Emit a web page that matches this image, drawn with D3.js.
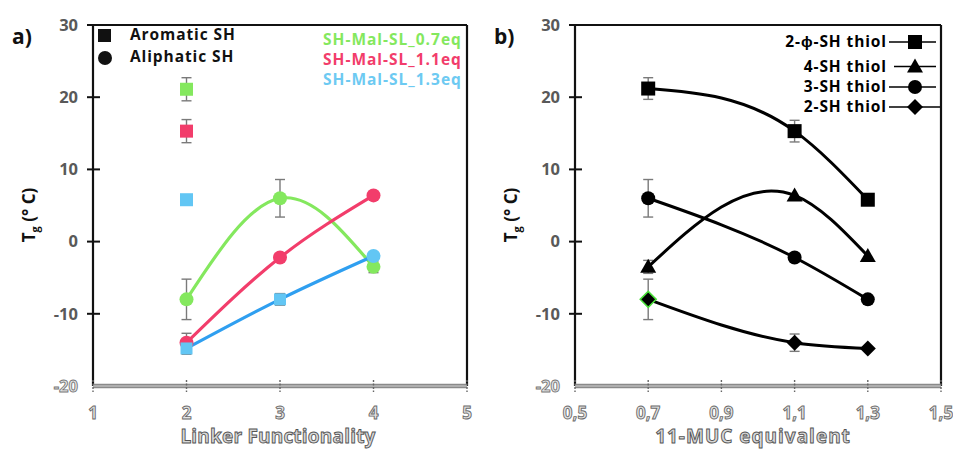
<!DOCTYPE html>
<html><head><meta charset="utf-8">
<script src="https://cdn.jsdelivr.net/npm/d3@7/dist/d3.min.js"></script>
<style>body{margin:0;background:#fff}svg{display:block}text{font-family:"Open Sans",sans-serif}</style>
</head><body><svg id="c" width="953" height="451"></svg>
<script>
// ---------- data ----------
const yTicks = [-20, -10, 0, 10, 20, 30];
const xTicksA = [1, 2, 3, 4, 5];
const xTickLabelsA = ["1", "2", "3", "4", "5"];
const xTicksB = [0.5, 0.7, 0.9, 1.1, 1.3, 1.5];
const xTickLabelsB = ["0,5", "0,7", "0,9", "1,1", "1,3", "1,5"];

// panel a
const linkerFunctionality = [2, 3, 4];
const aromaticTg = [21.1, 15.3, 5.8];
const aromaticErr = [1.6, 1.6, 0];
const tg07 = [-8, 6, -3.5];
const err07 = [2.8, 2.6, 0.8];
const tg11 = [-14, -2.2, 6.4];
const err11 = [1.3, 0, 0];
const tg13 = [-14.8, -8, -2];
const err13 = [0.8, 0.8, 0];
const seriesNamesA = ["SH-Mal-SL_0.7eq", "SH-Mal-SL_1.1eq", "SH-Mal-SL_1.3eq"];

// panel b
const mucEquivalent = [0.7, 1.1, 1.3];
const thiol2phi = [21.2, 15.3, 5.8];
const thiol2phiErr = [1.5, 1.5, 0];
const thiol4 = [-3.5, 6.4, -2];
const thiol4Err = [0.9, 0, 0];
const thiol3 = [6, -2.2, -8];
const thiol3Err = [2.6, 0, 0];
const thiol2 = [-8, -14, -14.8];
const thiol2Err = [2.8, 1.2, 0];
const seriesNamesB = ["2-ϕ-SH thiol", "4-SH thiol", "3-SH thiol", "2-SH thiol"];

// ---------- custom curve: natural cubic spline in x (smoothed line) ----------
function NaturalX(context) { this._context = context; }
NaturalX.prototype = {
  areaStart() { this._line = 0; }, areaEnd() { this._line = NaN; },
  lineStart() { this._xs = []; this._ys = []; },
  point(x, y) { this._xs.push(+x); this._ys.push(+y); },
  lineEnd() {
    const X = this._xs, Y = this._ys, n = X.length, ctx = this._context;
    if (!n) return;
    ctx.moveTo(X[0], Y[0]);
    if (n < 3) { for (let i = 1; i < n; i++) ctx.lineTo(X[i], Y[i]); return; }
    const h = [], s = [];
    for (let i = 0; i < n - 1; i++) { h.push(X[i + 1] - X[i]); s.push((Y[i + 1] - Y[i]) / h[i]); }
    const M = new Array(n).fill(0);
    const a = [], b = [], c = [], r = [];
    for (let i = 1; i < n - 1; i++) { a.push(h[i - 1]); b.push(2 * (h[i - 1] + h[i])); c.push(h[i]); r.push(6 * (s[i] - s[i - 1])); }
    const m = b.length;
    for (let i = 1; i < m; i++) { const w = a[i] / b[i - 1]; b[i] -= w * c[i - 1]; r[i] -= w * r[i - 1]; }
    const sol = new Array(m);
    sol[m - 1] = r[m - 1] / b[m - 1];
    for (let i = m - 2; i >= 0; i--) sol[i] = (r[i] - c[i] * sol[i + 1]) / b[i];
    for (let i = 0; i < m; i++) M[i + 1] = sol[i];
    for (let i = 0; i < n - 1; i++) {
      const d0 = s[i] - h[i] * (2 * M[i] + M[i + 1]) / 6;
      const d1 = s[i] + h[i] * (M[i] + 2 * M[i + 1]) / 6;
      ctx.bezierCurveTo(X[i] + h[i] / 3, Y[i] + d0 * h[i] / 3, X[i + 1] - h[i] / 3, Y[i + 1] - d1 * h[i] / 3, X[i + 1], Y[i + 1]);
    }
  }
};
const curveNaturalX = (context) => new NaturalX(context);

// ---------- drawing ----------
const svg = d3.select("#c");
const plotTop = 25, plotBottom = 386;
const y = d3.scaleLinear().domain([-20, 30]).range([plotBottom, plotTop]);
const xa = d3.scaleLinear().domain([1, 5]).range([93, 467]);
const xb = d3.scaleLinear().domain([0.5, 1.5]).range([575, 941]);

const green = "#84e85e", red = "#f23d6b", blueLine = "#2f9ff0", blueMark = "#62c6f4", blueText = "#6dcaf2";
const errColor = "#7a7a7a";
const legFont = "'Liberation Sans', Arial, sans-serif";
const legSize = 15.5;

function frame(x, ticks, labels, title, xTitleCenter, titleSpacing, panelLabel) {
  const g = svg.append("g");
  const [x0, x1] = x.range();
  g.append("line").attr("x1", x0).attr("x2", x1).attr("y1", plotTop).attr("y2", plotTop).attr("stroke", "#111").attr("stroke-width", 2.2);
  g.append("line").attr("x1", x1).attr("x2", x1).attr("y1", plotTop).attr("y2", plotBottom).attr("stroke", "#111").attr("stroke-width", 2.2);
  g.append("line").attr("x1", x0).attr("x2", x0).attr("y1", plotTop).attr("y2", plotBottom).attr("stroke", "#111").attr("stroke-width", 2.2);
  yTicks.forEach(t => {
    if (t !== -20) g.append("line").attr("x1", x0 - 6).attr("x2", x0 + 7).attr("y1", y(t)).attr("y2", y(t)).attr("stroke", "#111").attr("stroke-width", 2);
    const tx = g.append("text").attr("x", x0 - 15).attr("y", y(t)).attr("dy", "0.35em").attr("text-anchor", "end")
      .attr("font-size", 16.5).attr("font-weight", 700).text(t);
    if (t === -20) tx.attr("fill", "#e6e6e6").attr("stroke", "#777").attr("stroke-width", 0.9);
    else tx.attr("fill", "#595959");
  });
  g.append("line").attr("x1", x0).attr("x2", x1).attr("y1", plotBottom).attr("y2", plotBottom).attr("stroke", "#8a8a8a").attr("stroke-width", 4.5);
  g.append("line").attr("x1", x0).attr("x2", x1).attr("y1", plotBottom).attr("y2", plotBottom).attr("stroke", "#d4d4d4").attr("stroke-width", 1.2);
  ticks.forEach((t, i) => {
    g.append("line").attr("x1", x(t)).attr("x2", x(t)).attr("y1", plotBottom - 6).attr("y2", plotBottom + 6).attr("stroke", "#666").attr("stroke-width", 1.4).attr("stroke-dasharray", "2,1.5");
    g.append("text").attr("x", x(t)).attr("y", 413).attr("dy", "0.35em").attr("text-anchor", "middle")
      .attr("font-size", 17).attr("font-weight", 700).attr("fill", "#e4e4e4").attr("stroke", "#6a6a6a").attr("stroke-width", 0.9)
      .text(labels[i]);
  });
  g.append("text").attr("x", xTitleCenter).attr("y", 436).attr("dy", "0.35em").attr("text-anchor", "middle")
    .attr("font-size", 19).attr("font-weight", 700).attr("fill", "#d8d8d8").attr("stroke", "#555").attr("stroke-width", 0.9)
    .attr("letter-spacing", titleSpacing).text(title);
  const yt = g.append("text").attr("transform", `translate(${x0 - 58},${215}) rotate(-90)`).attr("text-anchor", "middle")
    .attr("font-size", 17).attr("font-weight", 700).attr("fill", "#111");
  yt.append("tspan").text("T");
  yt.append("tspan").attr("font-size", 11).attr("dy", 4).text("g");
  yt.append("tspan").attr("dy", -4).text(" (° C)");
  g.append("text").attr("x", x0 - 81).attr("y", 37).attr("dy", "0.35em").attr("font-size", 21).attr("font-weight", 700).attr("fill", "#111").text(panelLabel);
}

frame(xa, xTicksA, xTickLabelsA, "Linker Functionality", 278, 0.2, "a)");
frame(xb, xTicksB, xTickLabelsB, "11-MUC equivalent", 753, 1, "b)");

function errBars(g, x, xs, ys, es) {
  xs.forEach((xv, i) => {
    if (!es[i]) return;
    const cx = x(xv), yt = y(ys[i] + es[i]), yb = y(ys[i] - es[i]);
    g.append("line").attr("x1", cx).attr("x2", cx).attr("y1", yt).attr("y2", yb).attr("stroke", errColor).attr("stroke-width", 1.4);
    [yt, yb].forEach(yy => g.append("line").attr("x1", cx - 5).attr("x2", cx + 5).attr("y1", yy).attr("y2", yy).attr("stroke", errColor).attr("stroke-width", 1.4));
  });
}

const lineGen = (x) => d3.line().x(d => x(d[0])).y(d => y(d[1])).curve(curveNaturalX);

// ---------- panel a ----------
const ga = svg.append("g");
const aSeries = [
  {v: tg07, e: err07, c: green, mc: green, sh: ["c", "c", "c"]},
  {v: tg11, e: err11, c: red, mc: red, sh: ["c", "c", "c"]},
  {v: tg13, e: err13, c: blueLine, mc: blueMark, sh: ["s", "s", "c"]}
];
aSeries.forEach(s => errBars(ga, xa, linkerFunctionality, s.v, s.e));
errBars(ga, xa, [2, 2, 2], aromaticTg, aromaticErr);
aSeries.forEach(s => {
  ga.append("path").datum(linkerFunctionality.map((f, i) => [f, s.v[i]])).attr("d", lineGen(xa))
    .attr("fill", "none").attr("stroke", s.c).attr("stroke-width", 3.2);
});
aSeries.forEach(s => {
  linkerFunctionality.forEach((f, i) => {
    if (s.sh[i] === "c") ga.append("circle").attr("cx", xa(f)).attr("cy", y(s.v[i])).attr("r", 7).attr("fill", s.mc);
    else ga.append("rect").attr("x", xa(f) - 6).attr("y", y(s.v[i]) - 6).attr("width", 12).attr("height", 12).attr("fill", s.mc);
  });
});
const aromColors = [green, red, blueMark];
aromaticTg.forEach((v, i) => {
  ga.append("rect").attr("x", xa(2) - 6.5).attr("y", y(v) - 6.5).attr("width", 13).attr("height", 13).attr("fill", aromColors[i]);
});
ga.append("rect").attr("x", 98).attr("y", 29).attr("width", 13).attr("height", 13).attr("fill", "#111");
ga.append("circle").attr("cx", 105).attr("cy", 58).attr("r", 7).attr("fill", "#111");
[["Aromatic SH", 35], ["Aliphatic SH", 57]].forEach(([t, yy]) => {
  ga.append("text").attr("x", 130).attr("y", yy).attr("dy", "0.35em").attr("font-family", legFont).attr("font-size", legSize)
    .attr("font-weight", 700).attr("fill", "#111").attr("letter-spacing", 0.9).text(t);
});
const legA = [green, red, blueText];
const legAy = [39.5, 59.5, 79.5];
svg.append("clipPath").attr("id", "clipA").append("rect").attr("x", 93).attr("y", 26).attr("width", 373).attr("height", 100);
seriesNamesA.forEach((n, i) => {
  ga.append("text").attr("clip-path", "url(#clipA)").attr("x", 323).attr("y", legAy[i]).attr("dy", "0.35em")
    .attr("font-family", legFont).attr("font-size", legSize).attr("font-weight", 700).attr("fill", legA[i])
    .attr("letter-spacing", 1.0).text(n);
});

// ---------- panel b ----------
const gb = svg.append("g");
const bSeries = [
  {v: thiol2phi, e: thiol2phiErr, m: "square"},
  {v: thiol4, e: thiol4Err, m: "triangle"},
  {v: thiol3, e: thiol3Err, m: "circle"},
  {v: thiol2, e: thiol2Err, m: "diamond"}
];
bSeries.forEach(s => errBars(gb, xb, mucEquivalent, s.v, s.e));
bSeries.forEach(s => {
  gb.append("path").datum(mucEquivalent.map((m, i) => [m, s.v[i]])).attr("d", lineGen(xb))
    .attr("fill", "none").attr("stroke", "#000").attr("stroke-width", 3);
});
function marker(g, m, cx, cy, stroke) {
  let el;
  if (m === "square") el = g.append("rect").attr("x", cx - 7).attr("y", cy - 7).attr("width", 14).attr("height", 14);
  else if (m === "circle") el = g.append("circle").attr("cx", cx).attr("cy", cy).attr("r", 7);
  else if (m === "triangle") el = g.append("path").attr("d", `M${cx},${cy - 8}L${cx + 8},${cy + 6}L${cx - 8},${cy + 6}Z`);
  else el = g.append("path").attr("d", `M${cx},${cy - 8}L${cx + 8},${cy}L${cx},${cy + 8}L${cx - 8},${cy}Z`);
  el.attr("fill", "#000");
  if (stroke) el.attr("stroke", stroke).attr("stroke-width", 1.5);
  return el;
}
bSeries.forEach((s, si) => {
  mucEquivalent.forEach((m, i) => marker(gb, s.m, xb(m), y(s.v[i]), (si === 3 && i === 0) ? "#4be03a" : null));
});
const legY = [42, 66.5, 87, 107];
seriesNamesB.forEach((n, i) => {
  gb.append("line").attr("x1", i === 1 ? 894 : 889).attr("x2", i === 3 ? 940 : 936).attr("y1", legY[i]).attr("y2", legY[i]).attr("stroke", "#000").attr("stroke-width", 1.6);
  marker(gb, bSeries[i].m, 915, legY[i]);
  gb.append("text").attr("x", 887).attr("y", legY[i]).attr("dy", "0.35em").attr("text-anchor", "end")
    .attr("font-family", legFont).attr("font-size", legSize).attr("font-weight", 700).attr("fill", "#000")
    .attr("letter-spacing", 0.9).text(n);
});
</script></body></html>
